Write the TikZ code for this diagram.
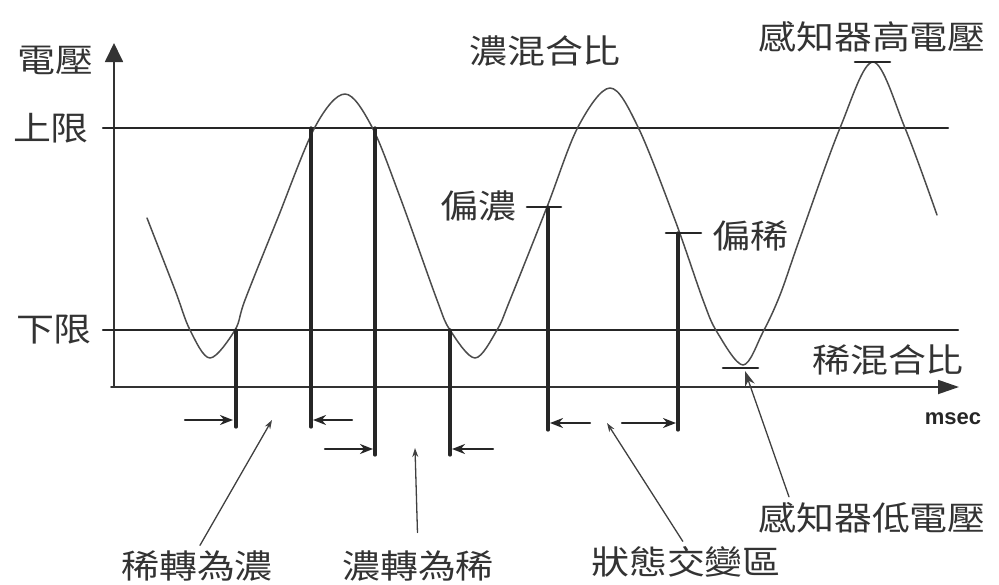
\documentclass[tikz,border=0pt]{standalone}
\usepackage{fontspec}
\newfontfamily\cjk[FakeStretch=1.15]{Noto Sans CJK TC}
\newfontfamily\lat{Liberation Sans}
\usetikzlibrary{arrows.meta}
\tikzset{
  lbl/.style={inner sep=0pt, text=black!80, font=\cjk\fontsize{33}{36}\selectfont},
  limit/.style={line width=2.4pt, black!85},
  axis/.style={line width=1.8pt, black!80},
  bar/.style={line width=3.2pt, black!85},
  wave/.style={line width=1.5pt, black!70},
  pin/.style={line width=2.6pt, black!85},
  span/.style={line width=2.2pt, black!85, -{Stealth[length=13pt,width=10pt]}},
  lead/.style={line width=1.3pt, black!75, shorten <=6pt, -{Stealth[length=9pt,width=6pt]}}
}
\begin{document}
\begin{tikzpicture}[x=1pt, y=-1pt, line join=round, line cap=round, >=stealth]
\useasboundingbox (0,0) rectangle (999,584);
% axes
\coordinate (O) at (114,387);
\coordinate (ytop) at (114,43);
\coordinate (xend) at (959,387);
\draw[axis, -{Triangle[length=19pt,width=18pt]}] (O) -- (ytop);
\draw[axis, -{Triangle[length=21pt,width=14pt]}] (111,387) -- (xend);
\node[inner sep=0pt, text=black!85, font=\lat\bfseries\fontsize{22}{24}\selectfont] (msec) at (953,419) {msec};
% limits
\draw[limit] (103,128) -- (948,128);
\draw[limit] (103,330) -- (958,330);
\node[lbl] (volt) at (55,60) {電壓};
\node[lbl] (upper) at (51,128) {上限};
\node[lbl] (lower) at (54,330) {下限};
% sensor signal
\draw[wave] plot[smooth, tension=0.55] coordinates {(147,218) (175,290) (190,330) (210,358) (235,330) (245,300) (277,220) (315,127) (345,94) (372,127) (400,197) (437,300) (450,330) (475,358) (497,330) (510,300) (547,207) (578,127) (610,88) (638,127) (675,220) (703,300) (717,332) (743,365) (763,332) (780,295) (800,238) (840,128) (873,62) (905,128) (937,215)};
% switching bars
\foreach \x/\t/\b in {236/330/427, 311/128/427, 375/128/455, 450/330/455, 548/207/430, 678/233/430}
  \draw[bar] (\x,\t) -- (\x,\b);
\foreach \a/\b/\y in {185/233/420, 352/313/420, 325/373/449, 493/452/449, 590/550/423, 622/676/423}
  \draw[span] (\a,\y) -- (\b,\y);
% marks
\draw[pin] (527,207) -- (561,207);
\draw[pin] (666,233) -- (701,233);
\draw[pin] (855,62) -- (890,62);
\draw[pin] (723,368) -- (758,368);
\node[lbl] (rich) at (545,51) {濃混合比};
\node[lbl] (high) at (872,37) {感知器高電壓};
\node[lbl] (richb) at (478,206) {偏濃};
\node[lbl] (leanb) at (750,236) {偏稀};
\node[lbl] (lean) at (888,360) {稀混合比};
\node[lbl] (lowv) at (872,518) {感知器低電壓};
\node[lbl] (zone) at (686,562) {狀態交變區};
\node[lbl] (l2r) at (197,566) {稀轉為濃};
\node[lbl] (r2l) at (418,566) {濃轉為稀};
% leaders
\coordinate (tl2r) at (272,420);
\coordinate (tr2l) at (415,448);
\coordinate (tzone) at (607,423);
\coordinate (tlow) at (745,371);
\draw[lead] (l2r.north) -- (tl2r);
\draw[lead, shorten <=18pt] (r2l.north) -- (tr2l);
\draw[lead] (zone.north) -- (tzone);
\draw[lead, -{Stealth[length=15pt,width=10pt]}] (lowv.north west) ++(33,0) -- (tlow);
\end{tikzpicture}
\end{document}
